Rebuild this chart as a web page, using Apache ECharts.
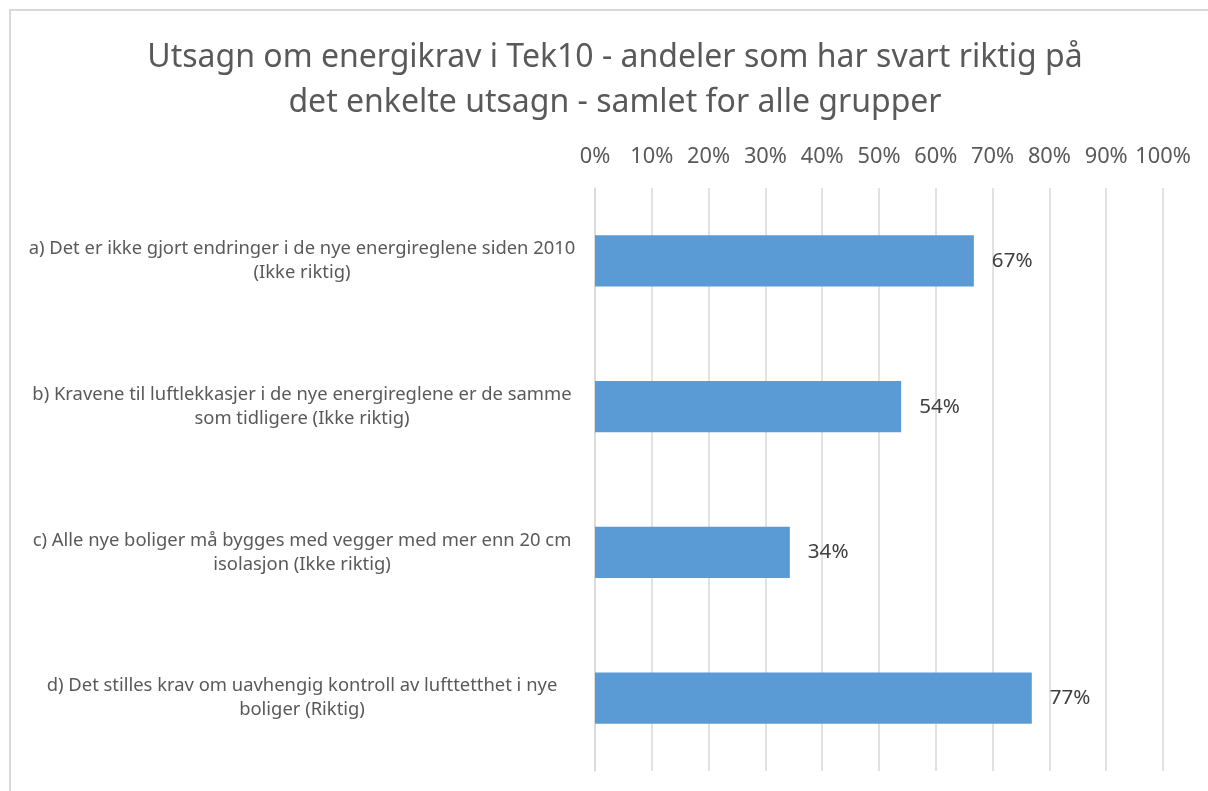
<!DOCTYPE html>
<html>
<head>
<meta charset="utf-8">
<script src="https://cdn.jsdelivr.net/npm/echarts@6/dist/echarts.min.js"></script>
<style>
html,body{margin:0;padding:0;background:#fff;}
#chart{width:1208px;height:791px;}
</style>
</head>
<body>
<div id="chart"></div>
<script>
const titleText = 'Utsagn om energikrav i Tek10 - andeler som har svart riktig på\ndet enkelte utsagn - samlet for alle grupper';
const categories = [
  'a) Det er ikke gjort endringer i de nye energireglene siden 2010\n(Ikke riktig)',
  'b) Kravene til luftlekkasjer i de nye energireglene er de samme\nsom tidligere (Ikke riktig)',
  'c) Alle nye boliger må bygges med vegger med mer enn 20 cm\nisolasjon (Ikke riktig)',
  'd) Det stilles krav om uavhengig kontroll av lufttetthet i nye\nboliger (Riktig)'
];
const values = [0.667, 0.539, 0.343, 0.769];
const xTicks = [0, 0.1, 0.2, 0.3, 0.4, 0.5, 0.6, 0.7, 0.8, 0.9, 1.0];

const FONT = 'Noto Sans';
const chart = echarts.init(document.getElementById('chart'));
chart.setOption({
  animation: false,
  textStyle: {fontFamily: FONT},
  title: {
    text: titleText,
    left: 610, top: 30,
    textAlign: 'center',
    textStyle: {fontFamily: FONT, fontSize: 32, fontWeight: 'normal', color: '#595959', lineHeight: 45}
  },
  graphic: [{
    type: 'rect', silent: true,
    shape: {x: 10, y: 10, width: 1400, height: 1000},
    style: {fill: 'none', stroke: '#d9d9d9', lineWidth: 2}
  }],
  grid: {left: 595, right: 45, top: 188, bottom: 20, containLabel: false},
  xAxis: {
    type: 'value', position: 'top',
    min: xTicks[0], max: xTicks[xTicks.length - 1], interval: 0.1,
    axisLine: {show: false}, axisTick: {show: false},
    splitLine: {show: true, lineStyle: {color: '#d9d9d9', width: 1.5}},
    axisLabel: {
      margin: 20, fontSize: 21.8, color: '#595959', fontFamily: FONT,
      formatter: v => Math.round(v * 100) + '%'
    }
  },
  yAxis: {
    type: 'category', inverse: true, data: categories,
    axisLine: {show: true, lineStyle: {color: '#d9d9d9', width: 1.5}},
    axisTick: {show: false},
    axisLabel: {
      margin: 293, align: 'center', fontSize: 18.4, lineHeight: 24,
      color: '#595959', fontFamily: FONT
    }
  },
  series: [{
    type: 'bar', data: values, barWidth: '35%',
    itemStyle: {color: '#5b9bd5'},
    label: {
      show: true, position: 'right', distance: 18,
      fontSize: 20.6, color: '#404040', fontFamily: FONT,
      formatter: p => Math.round(p.value * 100) + '%'
    }
  }]
});
</script>
</body>
</html>
